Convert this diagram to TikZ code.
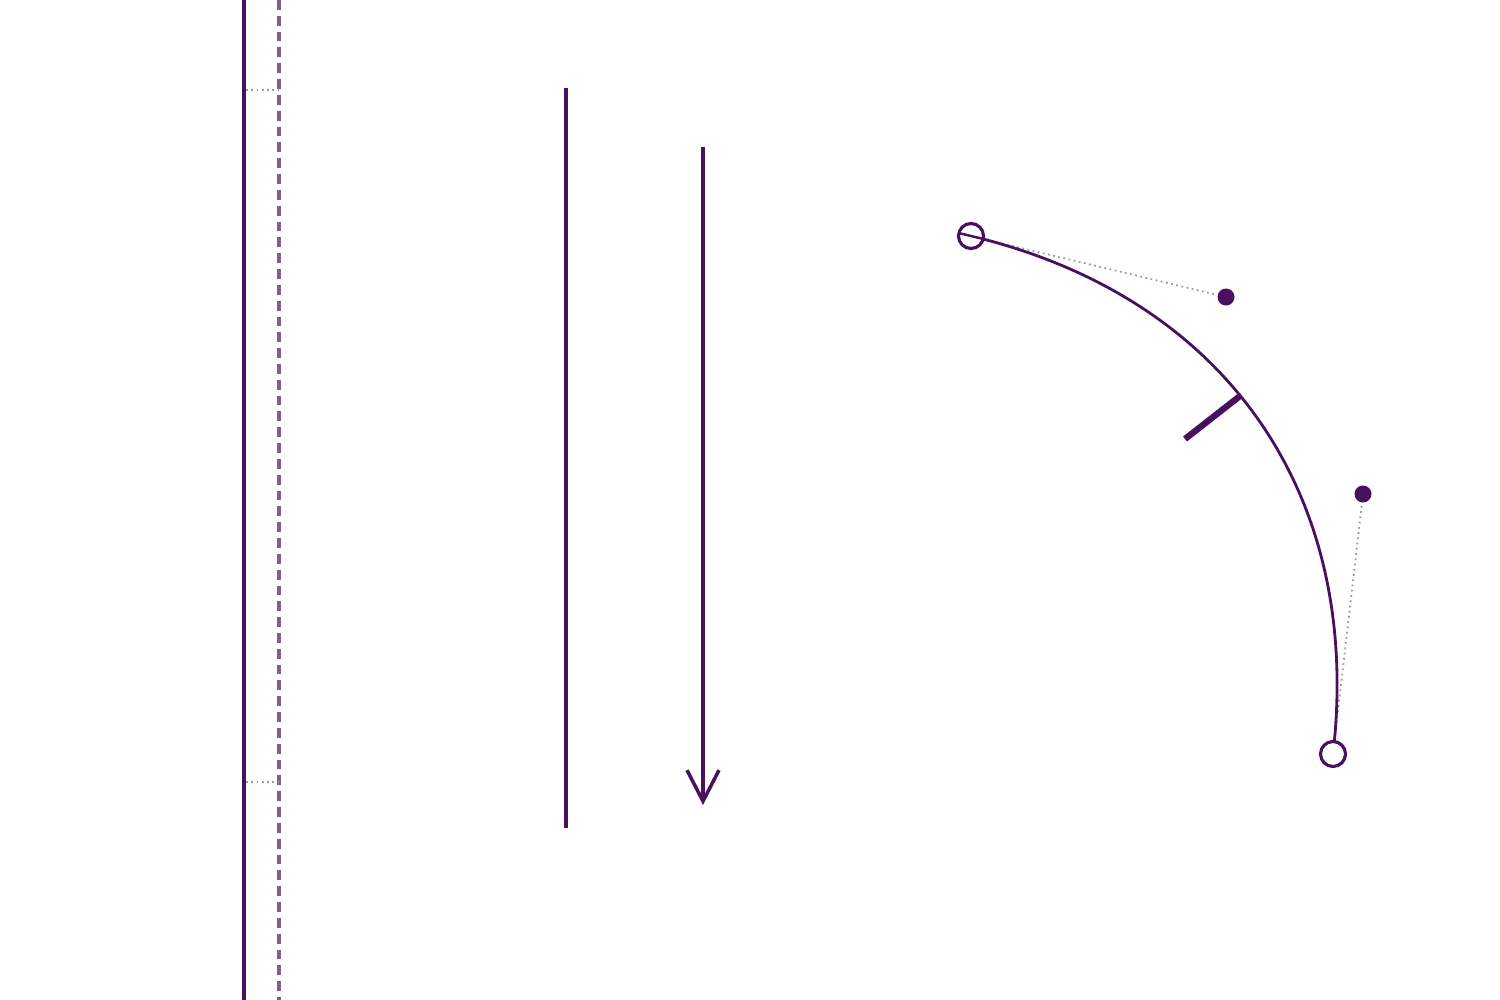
\documentclass[tikz,border=0pt]{standalone}
\usepackage{tikz}
\usetikzlibrary{arrows.meta,calc}
\definecolor{ink}{HTML}{4A1060}
\definecolor{guide}{HTML}{806088}

\begin{document}
\begin{tikzpicture}[
    x=0.01cm, y=-0.01cm,
    ink line/.style={draw=ink, line width=1pt},
    guide line/.style={draw=gray!80, densely dotted, line width=0.5pt},
    open pt/.style={circle, draw=ink, fill=white, line width=0.9pt, inner sep=0pt, minimum size=0.25cm},
    ctrl pt/.style={circle, fill=ink, inner sep=0pt, minimum size=0.17cm},
  ]
\useasboundingbox (0,0) rectangle (1500,1000);
% edges
\coordinate (e1) at (244,0);    \coordinate (e2) at (244,1000);
\coordinate (d1) at (279,0);    \coordinate (d2) at (279,1000);
\coordinate (g1) at (246,90);   \coordinate (g2) at (278,90);
\coordinate (g3) at (246,782);  \coordinate (g4) at (278,782);
\draw[ink line] (e1) -- (e2);
\draw[draw=guide, line width=1pt, dash pattern=on 2.8pt off 1.7pt] (d1) -- (d2);
\draw[guide line] (g1) -- (g2);
\draw[guide line] (g3) -- (g4);
% segment and ray
\coordinate (s1) at (566,88);   \coordinate (s2) at (566,828);
\coordinate (r1) at (703,147);  \coordinate (r2) at (703,805);
\draw[ink line] (s1) -- (s2);
\draw[ink line, -{Straight Barb[length=0.31cm, width=0.32cm, line width=1pt]}] (r1) -- (r2);
% curve
\node[ctrl pt] (c1) at (1226,297) {};
\node[ctrl pt] (c2) at (1363,494) {};
\coordinate (p1) at (971,236);
\coordinate (p2) at (1333,754);
\draw[guide line] (p1) -- (c1);
\draw[guide line] (p2) -- (c2);
\draw[ink line, line width=0.8pt] (p1) .. controls (c1.center) and (c2.center) .. (p2);
\coordinate (t1) at (1240,396);
\coordinate (t2) at (1185,439);
\draw[ink line, line width=1.8pt] (t1) -- (t2);
\node[open pt] (n1) at (p1) {};
\node[open pt] (n2) at (p2) {};
\draw[draw=ink, line width=0.7pt] ($(p1)!-0.12cm!(c1)$) -- ($(p1)!0.12cm!(c1)$);
\end{tikzpicture}
\end{document}
